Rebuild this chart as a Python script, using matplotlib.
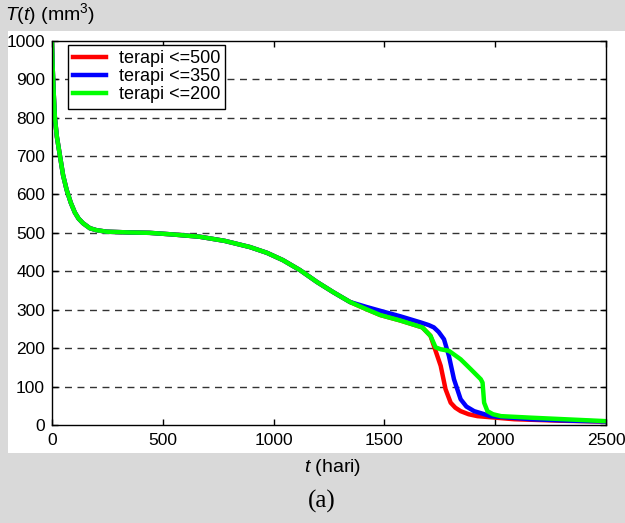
import matplotlib.pyplot as plt
import matplotlib.patches as patches

# data (t in hari, T in mm^3)
t_common = [0, 3, 8, 13, 22, 36, 50, 66, 85, 103, 120, 140, 171, 200, 246, 350, 440,
            540, 665, 780, 893, 970, 1042, 1119, 1196, 1268, 1345]
T_common = [1000, 930, 860, 800, 750, 700, 650, 612, 578, 553, 537, 525, 512, 507, 503, 501, 500,
            496, 490, 479, 463, 448, 429, 403, 372, 346, 320]

t_500 = [1420, 1482, 1571, 1671, 1708, 1731, 1754, 1776, 1799, 1820, 1844, 1880, 1920, 2086, 2300, 2500]
T_500 = [301, 286, 272, 254, 232, 193, 154, 93, 58, 45, 36, 28, 23, 15, 11, 9]

t_350 = [1420, 1482, 1571, 1663, 1700, 1723, 1745, 1769, 1791, 1814, 1844, 1870, 1905, 1980, 2162, 2350, 2500]
T_350 = [307, 297, 283, 267, 260, 254, 242, 223, 180, 119, 67, 48, 36, 23, 15, 11, 9]

t_200 = [1420, 1482, 1571, 1671, 1708, 1731, 1754, 1791, 1844, 1890, 1935, 1943, 1950,
         1965, 1990, 2026, 2162, 2350, 2500]
T_200 = [301, 286, 272, 254, 232, 202, 197, 193, 171, 145, 119, 110, 58,
         36, 28, 23, 19, 14, 10]

labels = ['terapi <=500', 'terapi <=350', 'terapi <=200']
colors = ['#ff0000', '#0000ff', '#00ff00']

plt.rcParams['font.family'] = ['Liberation Sans', 'DejaVu Sans']
plt.rcParams['mathtext.fontset'] = 'custom'
plt.rcParams['mathtext.rm'] = 'Liberation Sans'
plt.rcParams['mathtext.it'] = 'Liberation Sans:italic'

fig = plt.figure(figsize=(6.25, 5.23), dpi=100)
fig.patch.set_facecolor('#d9d9d9')

# white panel behind the axes
fig.patches.append(patches.Rectangle((0.0128, 0.134), 0.99, 0.807,
                                     transform=fig.transFigure,
                                     facecolor='white', edgecolor='none', zorder=-1))

ax = fig.add_axes([0.0832, 0.1874, 0.8864, 0.7348])
ax.set_zorder(1)
ax.patch.set_alpha(0)

series = [(t_500, T_500), (t_350, T_350), (t_200, T_200)]
for (tt, TT), lab, col in zip(series, labels, colors):
    ax.plot(t_common + tt, T_common + TT, color=col, linewidth=3.2, label=lab,
            solid_joinstyle='round')

ax.set_xlim(0, 2500)
ax.set_ylim(0, 1000)
ax.set_xticks(range(0, 2501, 500))
ax.set_yticks(range(0, 1001, 100))

# horizontal dashed grid only
for y in range(100, 1000, 100):
    ax.axhline(y, color='0.2', linewidth=1, linestyle=(0, (5, 4)), zorder=0.5)

ax.tick_params(direction='in', top=True, right=True, length=4, width=1,
               labelsize=12.5)
ax.tick_params(axis='x', pad=6)
ax.tick_params(axis='y', pad=5)
for sp in ax.spines.values():
    sp.set_linewidth(1)

leg = ax.legend(loc='upper left', bbox_to_anchor=(0.029, 0.989), borderaxespad=0,
                fontsize=13, fancybox=False, framealpha=1, edgecolor='black',
                handlelength=1.8, handletextpad=0.7, labelspacing=0.05,
                borderpad=0.3)
leg.get_frame().set_linewidth(1)

fig.text(0.008, 1 - 14 / 523, r'$T(t)$ (mm$^3$)', fontsize=14, va='center', ha='left')
fig.text(333 / 625, 1 - 468 / 523, r'$t$ (hari)', fontsize=14, va='center', ha='center')
fig.text(322 / 625, 1 - 501 / 523, '(a)', fontsize=18, va='center', ha='center',
         family='Liberation Serif')

plt.savefig('out.png', dpi=100, facecolor=fig.get_facecolor())
